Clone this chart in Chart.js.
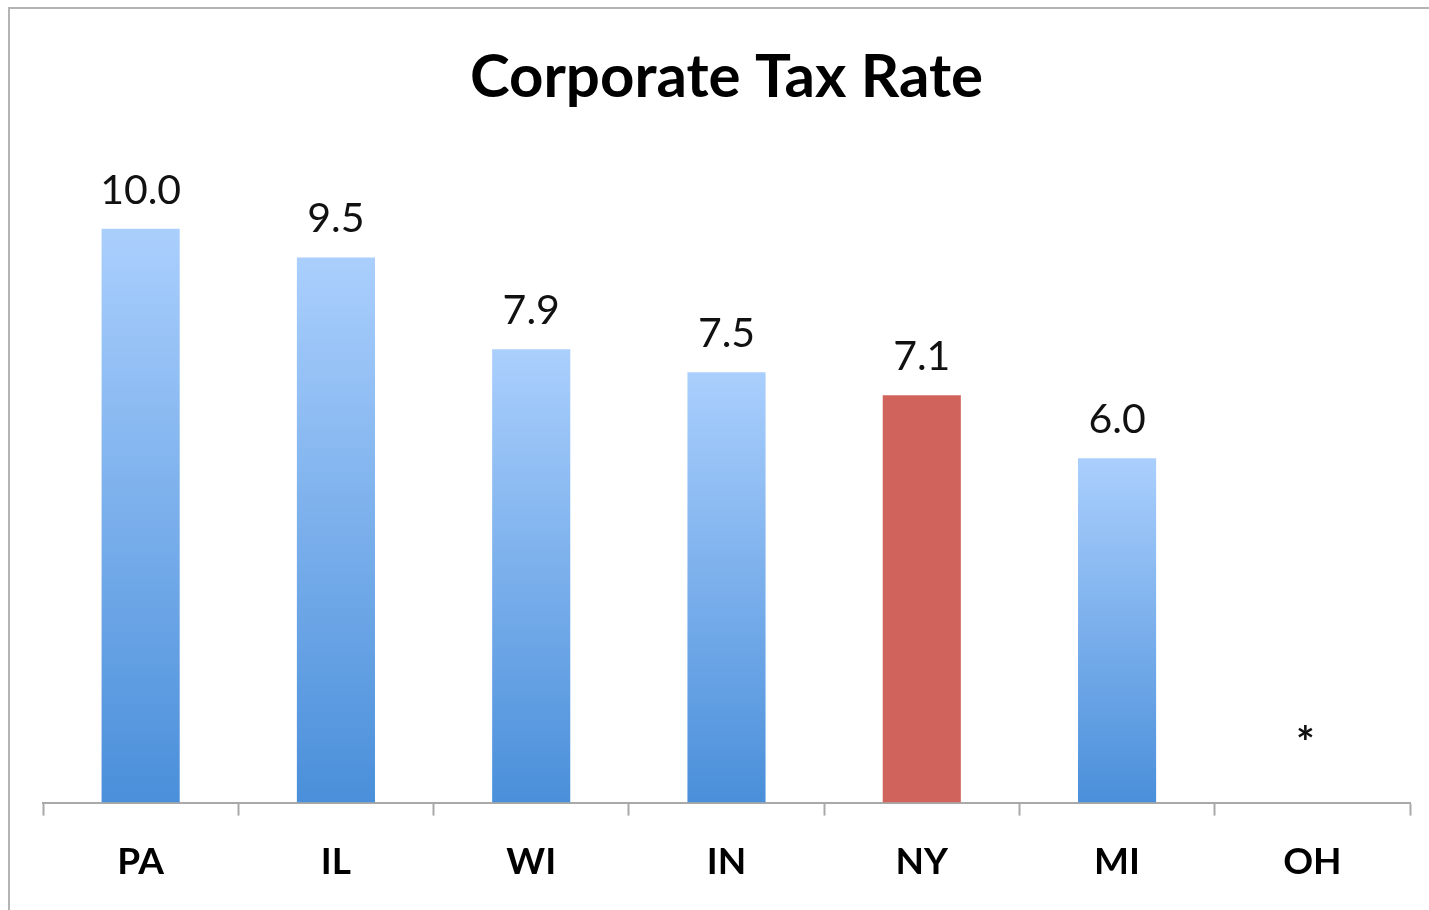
<!DOCTYPE html>
<html>
<head>
<meta charset="utf-8">
<title>Corporate Tax Rate</title>
<script src="https://cdn.jsdelivr.net/npm/chart.js@4.4.1/dist/chart.umd.min.js"></script>
<style>
    html, body { margin: 0; padding: 0; background: #fff; }
    #wrap { position: relative; width: 1429px; height: 910px; }
    #frame {
        position: absolute; left: 8px; top: 7px; right: -4px; bottom: -4px;
        border-left: 2px solid #b4b4b4; border-top: 2px solid #b4b4b4;
        pointer-events: none;
    }
    canvas { position: absolute; left: 0; top: 0; }
</style>
</head>
<body>
<div id="wrap">
    <canvas id="taxChart" width="1429" height="910"></canvas>
    <div id="frame"></div>
</div>
<script>
// ===== data =====
const states = ['PA', 'IL', 'WI', 'IN', 'NY', 'MI', 'OH'];
const taxRates = [10.0, 9.5, 7.9, 7.5, 7.1, 6.0, 0];
const rateLabels = ['10.0', '9.5', '7.9', '7.5', '7.1', '6.0', '*'];
const highlightState = 'NY';

const FONT = 'Lato, "Open Sans", sans-serif';

// per-bar vertical gradient, light on top like the Excel original
function barFill(context) {
    const chart = context.chart;
    const { chartArea, scales } = chart;
    if (states[context.dataIndex] === highlightState) return '#d0645d';
    if (!chartArea) return '#6fa7e6';
    const value = taxRates[context.dataIndex] || 0;
    const top = scales.y.getPixelForValue(value);
    const bottom = scales.y.getPixelForValue(0);
    if (bottom - top < 1) return '#6fa7e6';
    const g = chart.ctx.createLinearGradient(0, top, 0, bottom);
    g.addColorStop(0, '#aacffd');
    g.addColorStop(1, '#4a8fda');
    return g;
}

// value labels above each bar (no datalabels plugin available offline)
const valueLabels = {
    id: 'valueLabels',
    afterDatasetsDraw(chart) {
        const ctx = chart.ctx;
        const meta = chart.getDatasetMeta(0);
        ctx.save();
        ctx.fillStyle = '#111';
        ctx.textAlign = 'center';
        ctx.textBaseline = 'alphabetic';
        meta.data.forEach((bar, i) => {
            const text = rateLabels[i];
            if (!text) return;
            if (taxRates[i]) {
                ctx.font = '41px ' + FONT;
                ctx.fillText(text, bar.x, bar.y - 25);
            } else {
                // the asterisk for a missing rate sits higher over the axis
                ctx.font = 'bold 44px ' + FONT;
                ctx.fillText(text, bar.x - 7, bar.y - 45);
            }
        });
        ctx.restore();
    }
};

new Chart(document.getElementById('taxChart'), {
    type: 'bar',
    data: {
        labels: states,
        datasets: [{
            label: 'Corporate Tax Rate',
            data: taxRates,
            backgroundColor: barFill,
            borderWidth: 0,
            barPercentage: 0.4,
            categoryPercentage: 1.0
        }]
    },
    options: {
        responsive: false,
        animation: false,
        layout: { padding: { left: 43, right: 19, top: 0, bottom: 2 } },
        plugins: {
            legend: { display: false },
            tooltip: { enabled: true },
            title: {
                display: true,
                text: 'Corporate Tax Rate',
                color: '#000',
                font: { family: FONT, size: 60, weight: 'bold' },
                padding: { top: 42, bottom: 0 }
            }
        },
        scales: {
            x: {
                offset: true,
                grid: {
                    offset: true,
                    drawOnChartArea: false,
                    drawTicks: true,
                    tickLength: 13,
                    tickWidth: 2,
                    color: '#a9a9a9'
                },
                border: { display: true, color: '#a9a9a9', width: 2 },
                ticks: {
                    color: '#000',
                    padding: 24,
                    font: { family: FONT, size: 37, weight: 'bold' }
                }
            },
            y: {
                display: false,
                min: 0,
                max: 12
            }
        }
    },
    plugins: [valueLabels]
});
</script>
</body>
</html>
